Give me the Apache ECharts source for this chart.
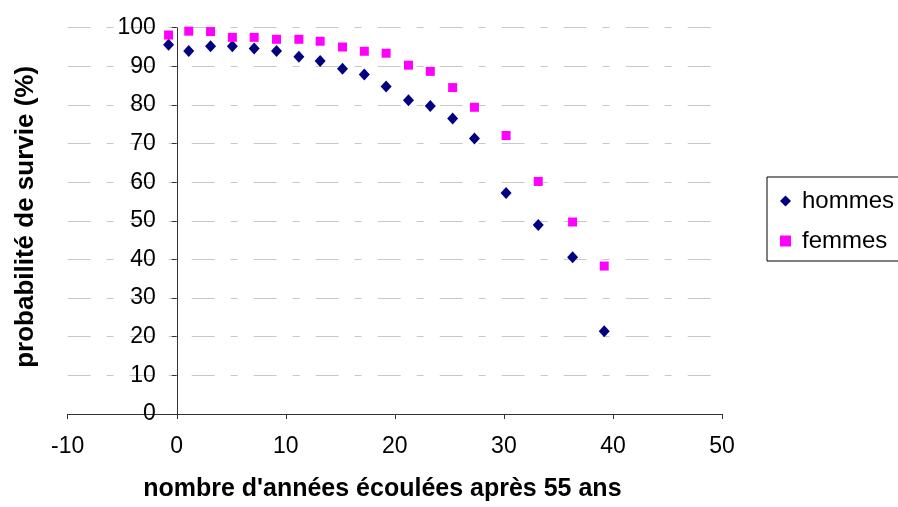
<!DOCTYPE html>
<html>
<head>
<meta charset="utf-8">
<script src="https://cdn.jsdelivr.net/npm/echarts@6/dist/echarts.min.js"></script>
<style>
  html, body { margin: 0; padding: 0; background: #fff; }
  #chart { width: 898px; height: 507px; }
</style>
</head>
<body>
<div id="chart"></div>
<script>
// Years elapsed after age 55 (x) and survival probability in % (y)
var years = [-0.75, 1.1, 3.1, 5.1, 7.1, 9.15, 11.2, 13.15, 15.2, 17.2, 19.2, 21.25, 23.25, 25.3, 27.3, 30.2, 33.15, 36.3, 39.2];
var hommes = [95.6, 94.0, 95.2, 95.2, 94.6, 94.0, 92.5, 91.4, 89.4, 87.9, 84.8, 81.2, 79.7, 76.5, 71.3, 57.2, 48.9, 40.6, 21.4];
var femmes = [98.1, 99.1, 99.0, 97.5, 97.5, 97.0, 97.0, 96.5, 95.0, 93.9, 93.4, 90.3, 88.7, 84.5, 79.4, 72.1, 60.2, 49.7, 38.3];

var seriesNames = ['hommes', 'femmes'];
var xTitle = "nombre d'années écoulées après 55 ans";
var yTitle = 'probabilité de survie (%)';

function pairs(xs, ys) {
  return xs.map(function (x, i) { return [x, ys[i]]; });
}

var font = '"Liberation Sans", Arial, sans-serif';
var gridLeft = 67.7, gridRight = 176, chartWidth = 898;
var xMin = -10, xMax = 50;
// the vertical axis sits on x = 0: shift it right by the width of the negative range
var yAxisShift = (0 - xMin) / (xMax - xMin) * (chartWidth - gridLeft - gridRight);

var chart = echarts.init(document.getElementById('chart'), null, { renderer: 'canvas' });

chart.setOption({
  animation: false,
  backgroundColor: '#ffffff',
  textStyle: { fontFamily: font },
  grid: { left: gridLeft, right: gridRight, top: 27.7, bottom: 93, containLabel: false, outerBoundsMode: 'none' },
  xAxis: {
    type: 'value',
    min: xMin, max: xMax, interval: 10,
    name: xTitle,
    nameLocation: 'middle',
    nameGap: 63,
    nameTextStyle: { fontFamily: font, fontSize: 25, fontWeight: 'bold', color: '#000', padding: [0, 25, 0, 0] },
    axisLine: { onZero: false, lineStyle: { color: '#333', width: 1 } },
    axisTick: { show: true, length: 5, inside: false, lineStyle: { color: '#333' } },
    axisLabel: { fontFamily: font, fontSize: 23, color: '#000', margin: 21 },
    splitLine: { show: false }
  },
  yAxis: {
    type: 'value',
    min: 0, max: 100, interval: 10,
    offset: -yAxisShift,
    name: yTitle,
    nameLocation: 'middle',
    nameGap: 138,
    nameRotate: 90,
    nameTextStyle: { fontFamily: font, fontSize: 26, fontWeight: 'bold', color: '#000', padding: [0, 0, 0, 8] },
    axisLine: { show: true, onZero: false, lineStyle: { color: '#333', width: 1 } },
    axisTick: { show: true, length: 5, inside: false, lineStyle: { color: '#333' } },
    axisLabel: { fontFamily: font, fontSize: 23, color: '#000', margin: 21 },
    splitLine: {
      show: true,
      lineStyle: { color: '#c8c8c8', width: 1, type: [23, 16, 7, 16], dashOffset: 0 }
    }
  },
  legend: {
    orient: 'vertical',
    left: 767,
    top: 177,
    padding: [12, 40, 8, 13],
    borderColor: '#000',
    borderWidth: 1,
    itemWidth: 11,
    itemHeight: 11,
    itemGap: 16,
    textStyle: { fontFamily: font, fontSize: 24, color: '#000', lineHeight: 24, padding: [0, 0, 0, 6] },
    data: seriesNames
  },
  series: [
    {
      name: seriesNames[0],
      type: 'scatter',
      symbol: 'diamond',
      symbolSize: [11, 12],
      itemStyle: { color: '#000080', opacity: 1 },
      data: pairs(years, hommes)
    },
    {
      name: seriesNames[1],
      type: 'scatter',
      symbol: 'rect',
      symbolSize: 9,
      itemStyle: { color: '#ff00ff', opacity: 1 },
      data: pairs(years, femmes)
    }
  ]
});
</script>
</body>
</html>
